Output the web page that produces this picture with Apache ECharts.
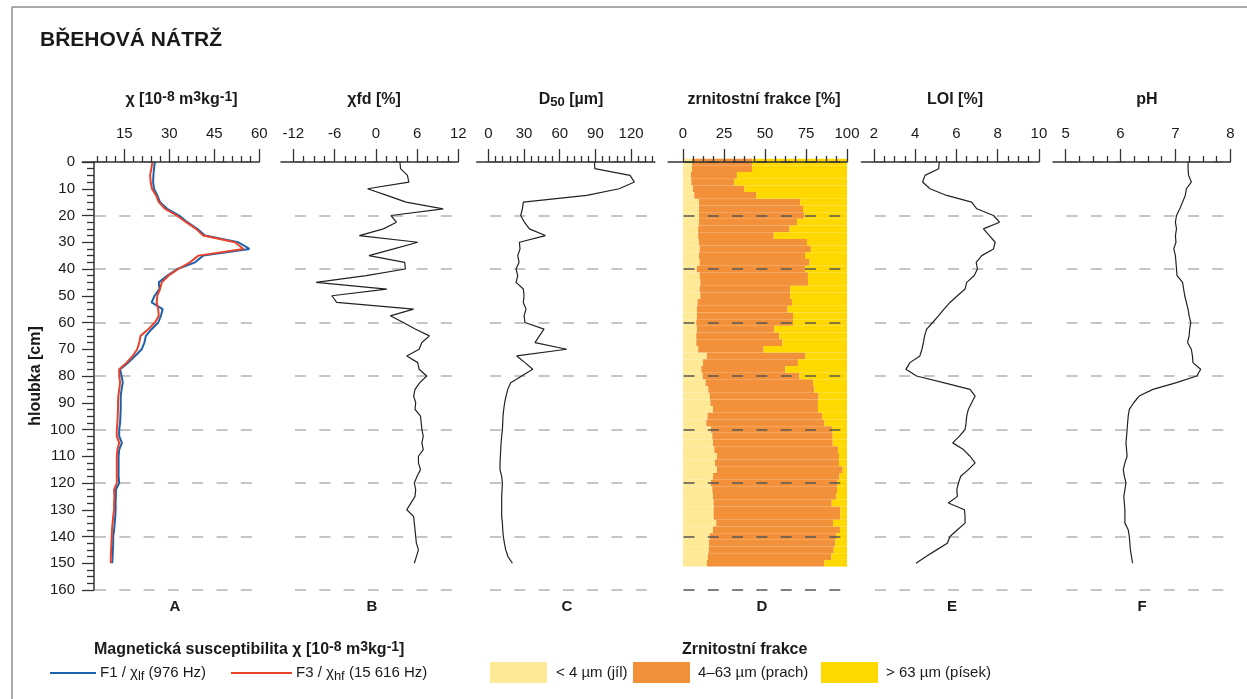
<!DOCTYPE html>
<html><head><meta charset="utf-8">
<script src="https://cdn.jsdelivr.net/npm/echarts@6/dist/echarts.min.js"></script>
<style>html,body{margin:0;padding:0;background:#fff}#c{width:1247px;height:699px}</style>
</head><body><div id="c"></div>
<script>
// ---------------- DATA ----------------
const depth = [0,2.5,5,7.5,10,12.5,15,17.5,20,22.5,25,27.5,30,32.5,35,37.5,40,42.5,45,47.5,50,52.5,55,57.5,60,62.5,65,67.5,70,72.5,75,77.5,80,82.5,85,87.5,90,92.5,95,97.5,100,102.5,105,107.5,110,112.5,115,117.5,120,122.5,125,127.5,130,132.5,135,137.5,140,142.5,145,147.5,150];
const chiLF = [25.2,24.9,24.7,24.6,24.9,26.0,26.9,29.3,33.3,36.0,39.3,41.9,53.0,56.7,41.3,38.6,32.7,29.3,26.5,26.7,25.1,24.1,27.8,27.2,26.3,24.1,22.2,21.7,20.8,18.6,16.3,13.6,14.1,14.5,14.1,13.8,13.8,13.8,13.7,13.6,13.3,13.3,14.2,13.3,13.1,13.1,13.1,13.1,13.3,12.2,12.2,12.1,12.1,12.0,11.8,11.6,11.3,11.3,11.2,11.1,11.0];
const chiHF = [24.4,24.0,23.6,23.8,24.2,25.6,26.5,28.6,32.5,35.6,38.9,41.3,51.9,54.7,39.7,36.9,33.0,29.7,27.5,26.9,26.0,25.8,26.3,26.5,25.2,23.0,20.4,20.0,19.3,17.8,15.8,13.3,13.3,13.6,13.3,13.0,12.9,12.9,12.8,12.7,12.5,12.5,13.3,12.7,12.5,12.5,12.5,12.5,12.5,11.6,11.7,11.6,11.6,11.3,11.1,10.9,10.8,10.7,10.6,10.5,10.5];
const chiFD = [3.5,3.6,4.6,4.8,-1.2,1.6,4.4,9.8,2.2,3.0,1.1,-2.4,6.1,2.6,-1.0,4.2,4.3,-1.4,-8.7,1.6,-6.4,-5.7,5.5,2.1,4.0,5.8,7.8,6.7,6.3,4.5,6.1,6.3,7.4,6.4,5.7,5.5,5.8,5.7,6.5,6.6,6.7,6.9,6.7,6.9,6.2,6.2,6.5,6.0,5.6,5.8,5.7,5.1,4.5,5.5,5.6,5.7,5.8,5.9,6.2,5.9,5.6];
const d50 = [89.2,89.5,119.1,122.8,109.9,82.7,29.4,28.6,27.2,30.3,34.5,47.9,26.1,26.6,24.7,25.8,23.3,24.7,23.3,29.4,30.0,29.4,31.7,30.0,30.8,46.8,42.9,39.2,65.9,23.8,30.8,37.3,28.0,18.8,16.3,14.9,13.7,12.9,12.3,12.1,11.8,11.2,10.7,10.4,10.1,9.8,9.8,11.2,11.8,11.5,11.2,11.2,11.2,11.2,11.8,12.1,12.6,13.5,14.6,16.5,20.2];
const clay = [5.5,5.5,4.9,5.1,6.1,6.9,9.8,9.8,9.8,9.8,9.3,9.3,9.8,10.2,9.8,10.2,8.5,10.2,10.6,10.2,10.6,8.9,8.5,8.5,8.1,8.5,8.1,8.1,9.3,14.6,12.2,11.2,12.0,13.8,15.4,16.3,16.7,18.3,15.0,14.2,17.1,17.9,18.3,19.1,20.7,19.5,20.7,18.3,17.1,17.9,18.3,18.7,18.7,18.7,20.3,18.3,16.3,15.9,15.7,15.2,14.6];
const silt = [36.6,36.6,28.0,26.2,31.3,37.8,61.7,63.4,64.2,59.7,55.7,46.0,65.8,67.8,64.6,67.0,66.1,66.0,65.6,55.2,54.8,57.6,55.3,58.6,59.0,47.2,50.6,52.5,39.9,60.0,57.9,51.2,59.1,65.5,64.7,66.4,65.6,64.0,69.8,72.0,73.8,73.4,73.0,75.4,74.4,75.6,76.7,77.2,77.2,76.0,75.2,72.0,77.2,77.2,71.2,77.4,77.2,77.0,76.2,75.2,71.6];
const sand = [57.9,57.9,67.1,68.7,62.6,55.3,28.5,26.8,26.0,30.5,35.0,44.7,24.4,22.0,25.6,22.8,25.4,23.8,23.8,34.6,34.6,33.5,36.2,32.9,32.9,44.3,41.3,39.4,50.8,25.4,29.9,37.6,28.9,20.7,19.9,17.3,17.7,17.7,15.2,13.8,9.1,8.7,8.7,5.5,4.9,4.9,2.6,4.5,5.7,6.1,6.5,9.3,4.1,4.1,8.5,4.3,6.5,7.1,8.1,9.6,13.8];
const loi = [5.17,5.14,4.48,4.36,4.72,5.53,6.74,6.99,7.80,8.09,7.31,7.60,7.88,7.80,7.23,6.96,7.02,6.86,6.50,6.42,6.05,5.69,5.40,5.13,4.85,4.56,4.46,4.40,4.33,4.23,3.75,3.55,4.07,5.37,6.66,6.91,6.74,6.58,6.50,6.47,6.42,6.15,5.82,6.34,6.66,6.91,6.58,6.21,6.10,6.02,6.05,5.61,6.39,6.42,6.42,6.05,5.69,5.56,5.04,4.53,4.04];
const ph = [7.23,7.23,7.24,7.29,7.20,7.18,7.13,7.08,7.02,7.00,7.02,7.00,7.01,6.97,7.00,7.01,7.02,7.03,7.13,7.15,7.17,7.20,7.23,7.25,7.28,7.26,7.25,7.22,7.29,7.31,7.32,7.46,7.39,7.02,6.59,6.34,6.24,6.16,6.14,6.13,6.12,6.11,6.10,6.11,6.12,6.08,6.05,6.07,6.10,6.08,6.06,6.07,6.08,6.08,6.08,6.14,6.16,6.17,6.18,6.20,6.22];

const ticksA = [15,30,45,60];
const ticksB = [-12,-6,0,6,12];
const ticksC = [0,30,60,90,120];
const ticksD = [0,25,50,75,100];
const ticksE = [2,4,6,8,10];
const ticksF = [5,6,7,8];

// ---------------- LAYOUT ----------------
const FONT = "'Liberation Sans Narrow','Arial Narrow','Liberation Sans',sans-serif";
const INK = '#1a1a1a';
const TOP = 162, H = 428, DMAX = 160;
const PXCM = H / DMAX;

function steps(a, b, step, skip) {
  const out = [];
  for (let v = a; v <= b + 1e-9; v += step) {
    const r = Math.round(v * 1000) / 1000;
    if (!skip.some(s => Math.abs(s - r) < 1e-6)) out.push(r);
  }
  return out;
}

const panels = [
  {ticks: ticksA, minorStep: 3, minorFrom: 6, minorTo: 60, min: 1, max: 60, left: 82.3, right: 259.3, dash: [95, 252]},
  {ticks: ticksB, minorStep: 1.5, minorFrom: -12, minorTo: 12, min: -13.8, max: 12, left: 281, right: 458.3, dash: [295, 452]},
  {ticks: ticksC, minorStep: 6, minorFrom: 0, minorTo: 138, min: -9.8, max: 140, left: 476.7, right: 654.9, dash: [490, 647]},
  {ticks: ticksD, minorStep: 6.25, minorFrom: 0, minorTo: 100, min: -9, max: 100, left: 668.2, right: 847, dash: [683.5, 840.5], dark: true},
  {ticks: ticksE, minorStep: 0.5, minorFrom: 2, minorTo: 10, min: 1.4, max: 10, left: 861.5, right: 1038.9, dash: [875, 1032]},
  {ticks: ticksF, minorStep: 0.25, minorFrom: 5, minorTo: 8, min: 4.77, max: 8, left: 1053, right: 1230.3, dash: [1066.5, 1223.5]}
];

const grid = [], xAxis = [], yAxis = [], series = [];
const G = (o) => Object.assign({outerBoundsMode: 'none', containLabel: false}, o);

// depth axis
grid.push(G({left: 94, top: TOP, width: 1, height: H}));
xAxis.push({gridIndex: 0, type: 'value', show: false, min: 0, max: 1});
yAxis.push({
  gridIndex: 0, type: 'value', inverse: true, min: 0, max: DMAX, interval: 10,
  axisLine: {show: true, onZero: false, lineStyle: {color: '#333', width: 1.5}},
  axisTick: {show: true, length: 12, lineStyle: {color: '#333', width: 1.3}},
  minorTick: {show: true, splitNumber: 4, length: 7, lineStyle: {color: '#333', width: 1.3}},
  axisLabel: {margin: 19, fontSize: 15, fontFamily: FONT, color: INK},
  splitLine: {show: false}, minorSplitLine: {show: false},
  name: 'hloubka [cm]', nameLocation: 'middle', nameGap: 50, nameRotate: 90,
  nameTextStyle: {fontSize: 16, fontWeight: 'bold', fontFamily: FONT, color: INK}
});

const refs = panels.map(p => {
  const gi = grid.length;
  grid.push(G({left: p.left, top: TOP, width: p.right - p.left, height: H}));
  const xi = xAxis.length;
  xAxis.push({
    gridIndex: gi, type: 'value', position: 'top', min: p.min, max: p.max, z: 6,
    axisLine: {show: true, onZero: false, lineStyle: {color: '#333', width: 1.5}},
    axisTick: {show: true, customValues: p.ticks, length: 13, lineStyle: {color: '#333', width: 1.3}},
    axisLabel: {show: true, customValues: p.ticks, margin: 21, fontSize: 15, fontFamily: FONT, color: INK},
    splitLine: {show: false}
  });
  xAxis.push({
    gridIndex: gi, type: 'value', position: 'top', min: p.min, max: p.max, z: 6,
    axisLine: {show: false, onZero: false},
    axisTick: {show: true, customValues: steps(p.minorFrom, p.minorTo, p.minorStep, p.ticks), length: 6, lineStyle: {color: '#333', width: 1.3}},
    axisLabel: {show: false}, splitLine: {show: false}
  });
  const yi = yAxis.length;
  yAxis.push({gridIndex: gi, type: 'value', inverse: true, min: 0, max: DMAX, show: false});
  // dashed depth guides
  const gd = grid.length;
  grid.push(G({left: p.dash[0], top: TOP, width: p.dash[1] - p.dash[0], height: H}));
  xAxis.push({gridIndex: gd, type: 'value', show: false, min: 0, max: 1});
  yAxis.push({
    gridIndex: gd, type: 'value', inverse: true, min: 0, max: DMAX, interval: 20, z: p.dark ? 4 : 0,
    axisLine: {show: false}, axisTick: {show: false}, axisLabel: {show: false},
    splitLine: {show: true, lineStyle: {type: [11, 13.3], color: p.dark ? '#555' : '#b3b3b3', width: 1.5}}
  });
  return {xi, yi};
});

function lineSeries(ref, vals, color, width) {
  return {
    type: 'line', xAxisIndex: ref.xi, yAxisIndex: ref.yi, z: 3,
    data: depth.map((d, i) => [vals[i], d]),
    showSymbol: false, symbol: 'none', animation: false,
    lineStyle: {color: color, width: width}
  };
}
series.push(lineSeries(refs[0], chiLF, '#1b62ad', 2));
series.push(lineSeries(refs[0], chiHF, '#e8432b', 2));
series.push(lineSeries(refs[1], chiFD, '#222', 1.2));
series.push(lineSeries(refs[2], d50, '#222', 1.2));
series.push(lineSeries(refs[4], loi, '#222', 1.2));
series.push(lineSeries(refs[5], ph, '#222', 1.2));

// grain-size bars
const pD = panels[3];
const gb = grid.length;
grid.push(G({left: pD.left, top: TOP - 1.25 * PXCM, width: pD.right - pD.left, height: depth.length * 2.5 * PXCM}));
const xb = xAxis.length;
xAxis.push({gridIndex: gb, type: 'value', show: false, min: pD.min, max: pD.max});
const yb = yAxis.length;
yAxis.push({gridIndex: gb, type: 'category', data: depth.map(String), inverse: true, show: false});
const COL_CLAY = '#feea96', COL_SILT = '#f2913a', COL_SAND = '#ffd800';
[[clay, COL_CLAY], [silt, COL_SILT], [sand, COL_SAND]].forEach(([vals, col]) => {
  series.push({type: 'bar', xAxisIndex: xb, yAxisIndex: yb, stack: 'g', data: vals, barWidth: '100%',
    itemStyle: {color: col}, animation: false, z: 2});
});

// ---------------- TEXT / LEGEND ----------------
const rich = (size) => ({
  sup: {fontSize: size - 2, fontWeight: 'bold', fontFamily: FONT, fill: INK, padding: [0, 0, 6, 0]},
  sub: {fontSize: size - 3, fontWeight: 'bold', fontFamily: FONT, fill: INK, padding: [5, 0, 0, 0]}
});
const richN = (size) => ({
  sub: {fontSize: size - 2, fontFamily: FONT, fill: INK, padding: [6, 0, 0, 0]}
});
function T(x, y, text, size, bold, align, extra) {
  return Object.assign({type: 'text', x: x, y: y, z: 10, style: {
    text: text, fontSize: size, fontWeight: bold ? 'bold' : 'normal', fontFamily: FONT, fill: INK,
    align: align || 'center', verticalAlign: 'middle', rich: bold ? rich(size) : richN(size)
  }}, extra || {});
}
const panelTitles = ['χ [10{sup|-8} m{sup|3}kg{sup|-1}]', 'χfd [%]', 'D{sub|50} [µm]', 'zrnitostní frakce [%]', 'LOI [%]', 'pH'];
const titleX = [181.5, 374, 571, 764, 955, 1147];
const letters = ['A', 'B', 'C', 'D', 'E', 'F'];
const letterX = [175, 372, 567, 762, 952, 1142];

const graphic = [
  {type: 'line', z: 10, shape: {x1: 12, y1: 7, x2: 1247, y2: 7}, style: {stroke: '#8c8c8c', lineWidth: 1.5}},
  {type: 'line', z: 10, shape: {x1: 12, y1: 7, x2: 12, y2: 699}, style: {stroke: '#8c8c8c', lineWidth: 1.5}},
  T(40, 40, 'BŘEHOVÁ NÁTRŽ', 21, true, 'left'),
  // legend 1
  T(94, 650, 'Magnetická susceptibilita χ [10{sup|-8} m{sup|3}kg{sup|-1}]', 16, true, 'left'),
  {type: 'line', z: 10, shape: {x1: 50, y1: 673, x2: 96, y2: 673}, style: {stroke: '#1b62ad', lineWidth: 2}},
  T(100, 673, 'F1 / χ{sub|lf} (976 Hz)', 15, false, 'left'),
  {type: 'line', z: 10, shape: {x1: 231, y1: 673, x2: 292, y2: 673}, style: {stroke: '#e8432b', lineWidth: 2}},
  T(296, 673, 'F3 / χ{sub|hf} (15 616 Hz)', 15, false, 'left'),
  // legend 2
  T(682, 650, 'Zrnitostní frakce', 16, true, 'left'),
  {type: 'rect', z: 10, shape: {x: 490, y: 662, width: 57, height: 21}, style: {fill: COL_CLAY}},
  T(556, 673, '< 4 µm (jíl)', 15, false, 'left'),
  {type: 'rect', z: 10, shape: {x: 633, y: 662, width: 57, height: 21}, style: {fill: COL_SILT}},
  T(698, 673, '4–63 µm (prach)', 15, false, 'left'),
  {type: 'rect', z: 10, shape: {x: 821, y: 662, width: 57, height: 21}, style: {fill: COL_SAND}},
  T(886, 673, '> 63 µm (písek)', 15, false, 'left')
];
panelTitles.forEach((t, i) => graphic.push(T(titleX[i], 100, t, 16, true, 'center')));
letters.forEach((t, i) => graphic.push(T(letterX[i], 607, t, 15, true, 'center')));

const chart = echarts.init(document.getElementById('c'));
chart.setOption({
  animation: false,
  backgroundColor: '#fff',
  textStyle: {fontFamily: FONT},
  grid: grid, xAxis: xAxis, yAxis: yAxis, series: series, graphic: graphic
});
</script>
</body></html>
